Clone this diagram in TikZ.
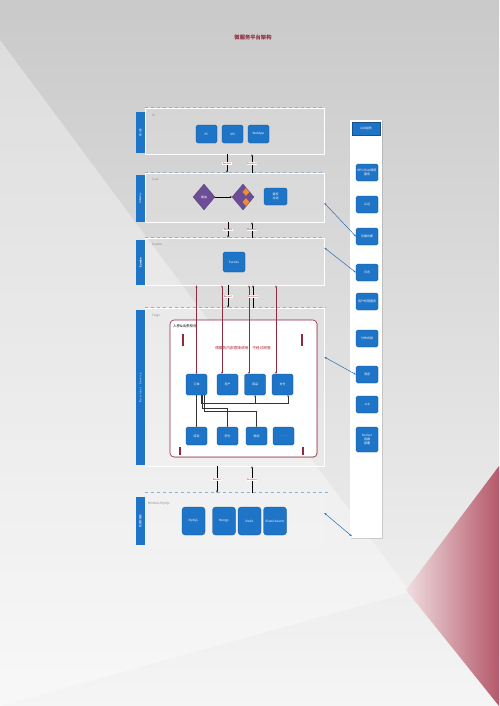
\documentclass[tikz,border=0pt]{standalone}
\usepackage{fontspec}
\setmainfont{Noto Sans CJK SC}
\usepackage{tikz}
\usetikzlibrary{arrows.meta,positioning,shapes.geometric,calc,shadows}
\definecolor{msblue}{HTML}{1E74C6}
\definecolor{msmaroon}{HTML}{8E2B3F}
\definecolor{mspurple}{HTML}{6B4E96}
\definecolor{msorange}{HTML}{EE8E2C}
\definecolor{msgray}{HTML}{8A8A8A}
\definecolor{msline}{HTML}{8DB2D8}
\definecolor{mssky}{HTML}{2B6CB0}
\definecolor{bgred}{HTML}{B5596A}

\begin{document}
\begin{tikzpicture}[x=1pt,y=-1pt,
  font=\fontsize{3}{3.6}\selectfont,
  layer/.style={draw=white,line width=0.6pt,fill=white,fill opacity=0.12,
    text opacity=1,minimum width=179pt,inner sep=0pt},
  bar/.style={fill=msblue,rotate=90,minimum height=9pt,inner sep=0pt,
    text=white,font=\fontsize{2.6}{3}\selectfont},
  lname/.style={anchor=north west,text=msgray,inner sep=0pt},
  svc/.style={fill=msblue,draw=msblue!70!black,line width=0.2pt,
    rounded corners=1.5pt,text=white,minimum width=21pt,minimum height=18pt,
    align=center,inner sep=0.5pt},
  gate/.style={diamond,fill=mspurple,draw=mspurple!70!black,line width=0.2pt,
    minimum width=22pt,minimum height=26pt,inner sep=0pt,text=white},
  sep/.style={draw=msline,dashed,line width=0.5pt},
  flow/.style={-{Stealth[length=2pt,width=1.6pt]},draw=black,line width=0.4pt},
  rr/.style={fill=white,text=msmaroon!60!red,font=\fontsize{2.2}{2.5}\selectfont,
    inner sep=0.4pt},
  reg/.style={{Stealth[length=2.2pt,width=1.8pt]}-{Stealth[length=2.2pt,width=1.8pt]},
    draw=msmaroon,line width=0.4pt},
  call/.style={-{Stealth[length=1.6pt,width=1.4pt]},draw=black!80,line width=0.3pt},
  side/.style={{Stealth[length=2.5pt,width=2pt]}-{Stealth[length=2.5pt,width=2pt]},
    draw=mssky,line width=0.5pt}
]
\useasboundingbox (0,0) rectangle (499,706);
\shade[top color=black!21,bottom color=black!4] (0,0) rectangle (499,706);
\fill[white,opacity=0.35] (0,40) -- (410,592) -- (0,706) -- cycle;
\shade[left color=bgred!20,right color=bgred] (499,466) -- (406,590) -- (499,706) -- cycle;

\node[text=msmaroon,font=\fontsize{5.3}{6}\selectfont\bfseries] (title) at (253,37) {微服务平台架构};

\node[layer,minimum height=46pt] (ul) at (234.5,131) {};
\node[layer,minimum height=49pt] (zl) at (234.5,197.5) {};
\node[layer,minimum height=47pt] (el) at (234.5,261.5) {};
\node[layer,minimum height=158pt] (fl) at (234.5,387) {};
\node[layer,draw=none,minimum height=55pt] (dl) at (234.5,520.5) {};
\draw[sep] (ul.north west) -- (ul.north east);
\draw[sep] (zl.north west) -- (zl.north east);
\draw[sep] (el.north west) -- (el.north east);
\draw[sep] (fl.north west) -- ([xshift=2pt]fl.north east);
\draw[sep] (dl.north west) -- ([xshift=6pt]dl.north east);

\node[bar,minimum width=41pt] (ub) at (140.5,132.5) {接入层};
\node[bar,minimum width=47pt] (zb) at (140.5,198.5) {Gateway};
\node[bar,minimum width=45pt] (eb) at (140.5,262.5) {\bfseries Eureka};
\node[bar,minimum width=155pt] (fb) at (140.5,387.5) {B u s i n e s s\quad S e r v i c e};
\node[bar,minimum width=48pt] (db) at (140.5,521) {数据存储层};

\node[lname] (un) at (152,114) {UI};
\node[lname] (zn) at (152,178) {Zuul};
\node[lname] (en) at (152,243) {Eureka};
\node[lname] (fn) at (152,314) {Feign};
\node[lname] (dn) at (148,502) {MONGO/MySQL};

\node[svc] (u1) at (206.5,134) {PC};
\node[svc] (u2) at (232.5,134) {iOS};
\node[svc] (u3) at (258.5,134) {WebApp};

\node[gate] (z1) at (204,197) {路由};
\node[gate] (z2) at (243,197) {};
\node[diamond,fill=msorange,minimum width=7pt,minimum height=8pt,inner sep=0pt] (z2a) at (246,192) {};
\node[diamond,fill=msorange,minimum width=7pt,minimum height=8pt,inner sep=0pt] (z2b) at (246,202) {};
\node[svc,minimum width=23pt,minimum height=17pt] (z3) at (275.5,196.5) {鉴权\\过滤};
\draw[flow] (z1) -- (z2);

\node[svc,minimum width=22pt,minimum height=20pt] (e1) at (234,262) {Eureka};

\node[draw=msmaroon,fill=white,rounded corners=4pt,line width=0.6pt,
  minimum width=147pt,minimum height=137pt,
  drop shadow={opacity=0.25,shadow xshift=0.8pt,shadow yshift=-0.8pt}] (fr) at (243.5,388.5) {};
\node[anchor=west,inner sep=0pt,font=\fontsize{3.5}{4}\selectfont] (frt) at (173,326) {入参\&出参校对};
\node[text=msmaroon!70!red,font=\fontsize{3.7}{4.2}\selectfont] (note) at (243,348) {微服务内部直接调用，不经过网管};
\draw[msmaroon,line width=2pt] (183,334) -- (183,346);
\draw[msmaroon,line width=2pt] (302,334) -- (302,346);
\draw[msmaroon,line width=1.2pt] (180,447) -- (180,455);
\draw[msmaroon,line width=1.2pt] (303,447) -- (303,455);

\node[svc,minimum height=21pt] (s1) at (196.5,384.5) {订单};
\node[svc,minimum height=21pt] (s2) at (227.5,384.5) {用户};
\node[svc,minimum height=21pt] (s3) at (255,384.5) {商品};
\node[svc,minimum height=21pt] (s4) at (282.5,384.5) {支付};
\node[svc] (t1) at (196.5,436) {库存};
\node[svc] (t2) at (227.5,436) {积分};
\node[svc] (t3) at (256.5,436) {物流};
\node[svc] (t4) at (283.5,436) {……};

\draw[call] (s1.south) -- (t1.north);
\draw[call] ([xshift=4.5pt]s1.south) |- ([xshift=5.5pt]s4.south |- 0,403) -- ([xshift=5.5pt]s4.south);
\draw[call] (s3.south |- 0,403) -- (s3.south);
\draw[call] ([xshift=6pt]s1.south) |- (t2.north |- 0,408) -- (t2.north);
\draw[call] ([xshift=7.5pt]s1.south) |- (t3.north |- 0,411) -- (t3.north);

\draw[reg] (s1.north) -- (s1.north |- el.south);
\draw[reg] ([xshift=-5.5pt]s2.north) -- ([xshift=-5.5pt]s2.north |- el.south);
\draw[reg] ([xshift=-6pt]s3.north) -- ([xshift=-6pt]s3.north |- el.south);
\draw[reg] ([xshift=-6.5pt]s4.north) -- ([xshift=-6.5pt]s4.north |- el.south);

\node[svc,rounded corners=3pt,minimum width=23pt,minimum height=28pt] (d1) at (193.5,521) {MySQL};
\node[svc,rounded corners=3pt,minimum width=23pt,minimum height=28pt] (d2) at (224,521) {Mongo};
\node[svc,rounded corners=3pt,minimum width=23pt,minimum height=28pt] (d3) at (249.5,521) {Redis};
\node[svc,rounded corners=3pt,minimum width=23pt,minimum height=28pt] (d4) at (275,521) {ElasticSearch};

\draw[flow] (ul.south -| 227,0) -- node[rr]{Request} (zl.north -| 227,0);
\draw[flow] (zl.north -| 252,0) -- node[rr]{Response} (ul.south -| 252,0);
\draw[flow] (zl.south -| 228,0) -- node[rr]{Request} (el.north -| 228,0);
\draw[flow] (el.north -| 252,0) -- node[rr]{Response} (zl.south -| 252,0);
\draw[flow] (el.south -| 228,0) -- node[rr]{Request} (fl.north -| 228,0);
\draw[flow] (fl.north -| 253,0) -- node[rr]{Response} (el.south -| 253,0);
\draw[flow] (fl.south -| 217,0) -- node[rr]{Request} (dl.north -| 217,0);
\draw[flow] (dl.north -| 252,0) -- node[rr]{Response} (fl.south -| 252,0);

\node[fill=white,minimum width=32pt,minimum height=418pt,inner sep=0pt,
  drop shadow={opacity=0.3,shadow xshift=1pt,shadow yshift=-1pt}] (side) at (366,329) {};
\node[svc,rounded corners=0pt,minimum width=28pt,minimum height=13pt] (hd) at (366,128.5) {公共组件};
\node[svc,minimum width=22pt,minimum height=17pt] (k1) at (367,172.5) {RPC/Rest调用\\服务};
\node[svc,minimum width=22pt,minimum height=17pt] (k2) at (367,204.5) {认证};
\node[svc,minimum width=22pt,minimum height=17pt] (k3) at (367,236.5) {负载均衡};
\node[svc,minimum width=22pt,minimum height=17pt] (k4) at (367,272.5) {日志};
\node[svc,minimum width=22pt,minimum height=17pt] (k5) at (367,301.5) {用户权限服务};
\node[svc,minimum width=22pt,minimum height=17pt] (k6) at (367,338.5) {分布式锁};
\node[svc,minimum width=22pt,minimum height=17pt] (k7) at (367,374.5) {消息};
\node[svc,minimum width=22pt,minimum height=17pt] (k8) at (367,404.5) {Job};
\node[svc,minimum width=22pt,minimum height=25pt] (k9) at (367,439.5) {Docker\\容器\\部署};

\draw[side] ([yshift=-5.5pt]zl.east) -- (k3.west);
\draw[side] ([yshift=-10pt]el.north east) -- (k4.west);
\draw[side] ([yshift=30pt]fl.east) -- (k7.west);
\draw[side] ([yshift=7.5pt]dl.east) -- ([xshift=2pt,yshift=2pt]side.south west);
\end{tikzpicture}
\end{document}
